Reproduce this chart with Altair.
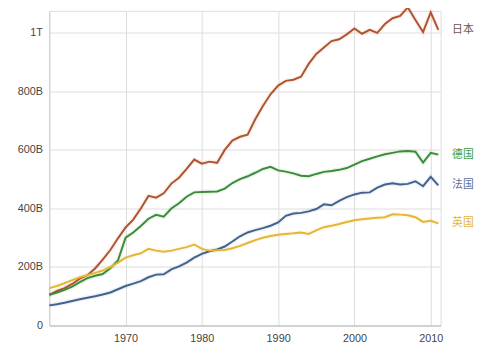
import altair as alt
import pandas as pd

years = list(range(1960, 2012))

japan = [105, 118, 128, 142, 160, 172, 195, 225, 258, 298,
         335, 362, 400, 443, 437, 452, 485, 505, 535, 567,
         553, 560, 556, 600, 632, 645, 652, 705, 750, 790,
         820, 836, 840, 850, 894, 928, 950, 972, 978, 995,
         1015, 997, 1010, 1000, 1030, 1050, 1058, 1087, 1044, 1003,
         1070, 1010]
germany = [105, 113, 122, 133, 148, 162, 170, 176, 196, 222,
           300, 318, 340, 365, 378, 372, 400, 418, 440, 455,
           456, 457, 458, 468, 487, 500, 510, 522, 535, 542,
           530, 526, 520, 512, 510, 518, 525, 528, 532, 538,
           550, 562, 570, 578, 585, 590, 595, 596, 594, 557,
           590, 584]
france = [69, 73, 78, 84, 90, 95, 100, 106, 113, 124,
          135, 143, 152, 165, 174, 175, 192, 202, 215, 232,
          245, 254, 260, 270, 287, 305, 318, 326, 333, 341,
          352, 375, 383, 385, 390, 398, 414, 411, 426, 439,
          448, 454, 455, 471, 482, 486, 482, 484, 493, 476,
          508, 479]
uk = [128, 135, 145, 155, 165, 172, 180, 188, 200, 215,
      232, 240, 247, 262, 256, 252, 256, 262, 268, 277,
      262, 256, 257, 258, 264, 272, 282, 292, 300, 306,
      310, 313, 315, 318, 313, 325, 336, 341, 347, 354,
      360, 363, 366, 368, 370, 380, 379, 377, 370, 354,
      358, 349]

countries = ["日本", "德国", "法国", "英国"]
series = [japan, germany, france, uk]
line_colors = ["#b0532f", "#3a8c38", "#42618f", "#e5b634"]
label_colors = ["#6f5648", "#3f9a3f", "#5a7296", "#e3b43a"]

x_ticks = [1970, 1980, 1990, 2000, 2010]
y_ticks = [0, 200, 400, 600, 800, 1000]

rows = []
for c, vals in zip(countries, series):
    for yr, v in zip(years, vals):
        rows.append({"country": c, "year": yr, "value": v})
df = pd.DataFrame(rows)

last = pd.DataFrame({"country": countries,
                     "year": [years[-1]] * 4,
                     "value": [s[-1] for s in series]})

xs = alt.Scale(domain=[1960, 2011.3], nice=False, zero=False)
ys = alt.Scale(domain=[0, 1075], nice=False)

x_enc = alt.X("year:Q", scale=xs, axis=alt.Axis(
    values=x_ticks, format="d", title=None, grid=True, ticks=False,
    labelPadding=7, labelFontSize=11, labelColor="#444",
    labelFont="Liberation Sans", domainColor="#bdbdbd", gridColor="#dcdcdc"))
y_enc = alt.Y("value:Q", scale=ys, axis=alt.Axis(
    values=y_ticks, title=None, grid=True, ticks=False, labelPadding=7,
    labelFontSize=11, labelColor="#444", labelFont="Liberation Sans",
    domainColor="#cccccc", gridColor="#dcdcdc",
    labelExpr="datum.value == 0 ? '0' : (datum.value >= 1000 ? '1T' : datum.value + 'B')"))

color_lines = alt.Color("country:N", scale=alt.Scale(domain=countries, range=line_colors), legend=None)

halo = alt.Chart(df).mark_line(strokeWidth=5, opacity=0.08, clip=False).encode(
    x=x_enc, y=y_enc, color=color_lines, detail="country:N")
lines = alt.Chart(df).mark_line(strokeWidth=2, clip=False).encode(
    x=x_enc, y=y_enc, color=color_lines, detail="country:N")

labels = alt.Chart(last).mark_text(align="left", baseline="middle", dx=14,
                                   fontSize=11, font="Noto Sans CJK SC").encode(
    x=alt.X("year:Q", scale=xs),
    y=alt.Y("value:Q", scale=ys),
    text="country:N",
    color=alt.Color("country:N", scale=alt.Scale(domain=countries, range=label_colors), legend=None))

chart = alt.layer(halo, lines, labels).resolve_scale(color="independent").properties(
    width=398, height=320,
    autosize=alt.AutoSizeParams(type="none"),
    padding={"left": 42, "top": 0, "right": 37, "bottom": 27},
).configure_view(stroke=None).configure(background="white")

chart.save("out.html", embed_options={"renderer": "svg", "actions": False})
